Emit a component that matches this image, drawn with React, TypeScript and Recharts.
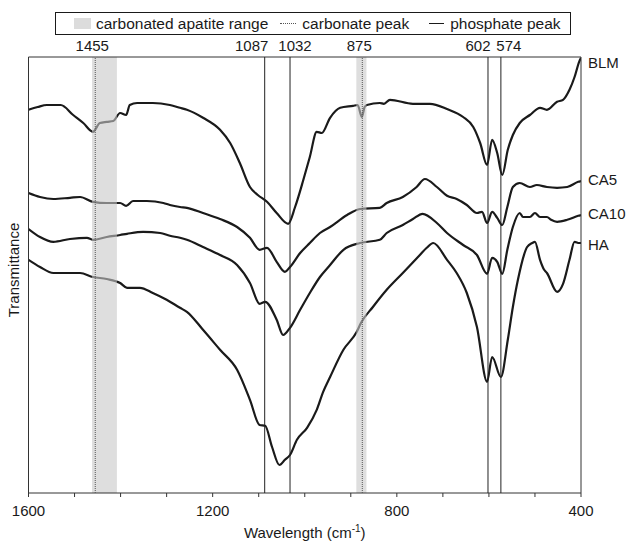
import React from 'react';
import { LineChart, Line, XAxis, YAxis, ReferenceLine, ReferenceArea } from 'recharts';

// FTIR spectra, wavenumber (cm-1) vs transmittance (arb. units, curves offset)
const blmWave = [1600, 1580, 1560, 1530, 1503, 1481, 1460, 1445, 1430, 1416, 1401, 1388, 1380, 1364, 1330, 1293, 1271, 1256, 1221, 1184, 1162, 1141, 1119, 1102, 1082, 1061, 1036, 1021, 1003, 989, 974, 963, 945, 923, 895, 885, 876, 870, 865, 837, 828, 815, 765, 728, 691, 656, 634, 619, 604, 593, 582, 571, 559, 548, 533, 511, 489, 474, 452, 439, 425, 414, 404, 400];
const blmT = [95.8, 96.5, 97.0, 97.0, 94.5, 92.5, 90.3, 92.5, 92.8, 93.0, 95.0, 94.5, 97.0, 97.5, 97.5, 97.0, 96.3, 95.8, 93.8, 90.8, 87.5, 82.5, 76.5, 74.5, 72.8, 70.0, 67.3, 71.5, 78.3, 84.0, 90.3, 90.0, 93.8, 96.3, 96.8, 97.0, 94.0, 96.5, 97.0, 97.5, 97.3, 98.3, 97.3, 97.3, 96.0, 94.0, 91.5, 87.5, 82.0, 88.3, 85.0, 79.5, 85.8, 89.5, 92.5, 94.5, 96.3, 95.8, 97.8, 98.3, 100.8, 104.0, 107.8, 108.8];

const ca5Wave = [1600, 1575, 1546, 1510, 1488, 1460, 1430, 1401, 1388, 1373, 1343, 1307, 1293, 1271, 1256, 1221, 1184, 1147, 1119, 1098, 1082, 1061, 1043, 1032, 1010, 989, 967, 945, 908, 880, 837, 822, 787, 757, 739, 713, 691, 670, 648, 626, 615, 604, 593, 582, 571, 560, 548, 533, 511, 496, 474, 452, 430, 406, 400];
const ca5T = [75.0, 74.0, 73.5, 73.8, 74.0, 72.8, 72.5, 72.5, 71.8, 73.0, 73.0, 72.5, 72.0, 71.5, 71.3, 70.0, 68.5, 66.5, 63.8, 60.8, 61.3, 57.8, 55.3, 56.5, 60.0, 62.5, 65.0, 66.5, 69.5, 71.0, 71.3, 72.5, 74.0, 76.5, 78.5, 76.5, 74.3, 73.5, 72.0, 70.0, 70.3, 67.5, 70.3, 68.8, 67.0, 71.5, 76.5, 77.5, 76.5, 77.0, 76.5, 76.3, 76.5, 77.8, 78.0];

const ca10Wave = [1600, 1575, 1546, 1510, 1473, 1460, 1430, 1401, 1386, 1351, 1314, 1293, 1271, 1256, 1221, 1184, 1147, 1119, 1098, 1086, 1061, 1047, 1032, 1010, 989, 967, 945, 916, 880, 837, 822, 787, 765, 744, 713, 691, 656, 626, 604, 593, 582, 571, 560, 548, 533, 526, 511, 500, 489, 474, 465, 452, 430, 406, 400];
const ca10T = [66.0, 64.0, 62.8, 63.5, 63.8, 63.3, 64.0, 64.5, 64.8, 65.3, 65.0, 64.3, 63.8, 63.3, 61.5, 59.5, 57.0, 52.5, 47.3, 47.8, 43.3, 39.5, 41.3, 45.8, 50.0, 54.0, 57.0, 60.8, 62.5, 63.3, 65.0, 67.0, 68.5, 69.8, 67.5, 65.0, 62.0, 59.5, 54.8, 58.8, 57.8, 54.8, 60.8, 66.5, 70.0, 69.0, 69.0, 70.0, 69.0, 69.0, 68.3, 67.8, 68.3, 69.3, 69.5];

const haWave = [1600, 1575, 1546, 1488, 1460, 1430, 1401, 1386, 1358, 1330, 1300, 1271, 1256, 1221, 1184, 1147, 1119, 1098, 1086, 1071, 1055, 1043, 1032, 1017, 995, 974, 960, 945, 916, 887, 878, 852, 822, 787, 750, 735, 721, 691, 670, 648, 626, 604, 593, 574, 559, 548, 537, 517, 506, 500, 489, 480, 474, 452, 439, 425, 414, 404, 400];
const haT = [58.3, 56.5, 55.0, 55.0, 54.0, 53.5, 52.5, 51.3, 51.3, 50.0, 48.3, 46.3, 45.3, 40.8, 35.8, 30.8, 23.3, 17.0, 16.8, 11.5, 7.0, 8.3, 9.5, 13.3, 16.3, 20.8, 25.3, 29.0, 35.8, 40.3, 42.5, 46.5, 50.8, 55.0, 59.5, 61.3, 62.5, 58.3, 55.0, 50.0, 41.5, 27.8, 34.0, 29.0, 38.3, 46.5, 53.3, 61.5, 62.5, 62.8, 58.3, 55.8, 55.0, 50.3, 52.3, 58.3, 62.8, 62.5, 62.5];

const phosphatePeaks = [1087, 1032, 602, 574];
const carbonatePeaks = [1455, 875];
const apatiteRanges = [[1462, 1408], [888, 866]];

const xTicks = [1600, 1500, 1400, 1300, 1200, 1100, 1000, 900, 800, 700, 600, 500, 400];
const xTickLabels = [1600, 1200, 800, 400];

const FONT = '"Liberation Sans", Arial, Helvetica, sans-serif';
const INK = '#1a1a1a';

const toPoints = (wave: number[], t: number[]) => wave.map((w, i) => ({ w, t: t[i] }));

const series = [
  { name: 'BLM', data: toPoints(blmWave, blmT), dy: 5 },
  { name: 'CA5', data: toPoints(ca5Wave, ca5T), dy: -2 },
  { name: 'CA10', data: toPoints(ca10Wave, ca10T), dy: -2 },
  { name: 'HA', data: toPoints(haWave, haT), dy: 1 },
];

// label offsets so the close peak numbers don't collide
const peakLabelDx: Record<number, number> = { 1455: -3, 1087: -13, 1032: 5, 875: -3, 602: -10, 574: 8 };

const PeakLabel = (props: any) => {
  const vb = props.viewBox || {};
  return (
    <text x={(vb.x ?? 0) + (props.dx || 0)} y={(vb.y ?? 57) - 6} textAnchor="middle"
      fontSize={15} fontFamily={FONT} fill={INK}>
      {props.value}
    </text>
  );
};

const endLabel = (name: string, last: number, dy: number) => (props: any) => {
  if (props.index !== last) return null;
  const x = props.x ?? props.viewBox?.x;
  const y = props.y ?? props.viewBox?.y;
  if (x == null || y == null) return null;
  return (
    <text key={name} x={x + 7} y={y + dy} dominantBaseline="central" fontSize={15}
      fontFamily={FONT} fill={INK}>
      {name}
    </text>
  );
};

const XTitle = (props: any) => {
  const vb = props.viewBox || {};
  const cx = (vb.x ?? 28) + (vb.width ?? 552) / 2;
  return (
    <text x={cx} y={(vb.y ?? 493) + 45} textAnchor="middle" fontSize={15} fontFamily={FONT} fill={INK}>
      <tspan>Wavelength (cm</tspan>
      <tspan dy={-6} fontSize={10}>-1</tspan>
      <tspan dy={6}>)</tspan>
    </text>
  );
};

const YTitle = (props: any) => {
  const vb = props.viewBox || {};
  const cy = (vb.y ?? 57) + (vb.height ?? 436) / 2 - 5;
  const cx = 13;
  return (
    <text x={cx} y={cy} transform={`rotate(-90, ${cx}, ${cy})`} textAnchor="middle"
      dominantBaseline="central" fontSize={15} fontFamily={FONT} fill={INK}>
      Transmittance
    </text>
  );
};

const LegendBox = () => (
  <div style={{
    position: 'absolute', left: 55, top: 12, width: 514, height: 21,
    border: `1px solid ${INK}`, display: 'flex', alignItems: 'center',
    fontFamily: FONT, fontSize: 15.5, color: INK, background: '#fff', whiteSpace: 'nowrap',
  }}>
    <span style={{ display: 'inline-block', width: 17, height: 11, background: '#dcdcdc', marginLeft: 18, marginRight: 5 }} />
    <span>carbonated apatite range</span>
    <span style={{ display: 'inline-block', width: 16, borderTop: '1px dotted #555', marginLeft: 12, marginRight: 6 }} />
    <span>carbonate peak</span>
    <span style={{ display: 'inline-block', width: 15, borderTop: `1.5px solid ${INK}`, marginLeft: 20, marginRight: 6 }} />
    <span>phosphate peak</span>
  </div>
);

export default function App() {
  return (
    <div style={{ position: 'absolute', left: 0, top: 0, width: 634, height: 544, background: '#fff' }}>
      <LineChart width={634} height={544} margin={{ top: 37, right: 33, bottom: 21, left: 8.5 }}>
        <XAxis type="number" dataKey="w" domain={[400, 1600]} reversed allowDataOverflow
          ticks={xTicks} interval={0} height={30} tickSize={4} tickMargin={8}
          tickFormatter={(v: number) => (xTickLabels.includes(v) ? String(v) : '')}
          axisLine={{ stroke: '#333' }} tickLine={{ stroke: '#333' }}
          tick={{ fontSize: 15, fontFamily: FONT, fill: INK }}
          label={<XTitle />} />
        <XAxis xAxisId="top" orientation="top" type="number" dataKey="w" domain={[400, 1600]}
          reversed allowDataOverflow height={20} tick={false} tickLine={false}
          axisLine={{ stroke: '#333' }} />
        <YAxis domain={[0, 109]} allowDataOverflow width={20} tick={false} tickLine={false}
          axisLine={{ stroke: '#333' }} label={<YTitle />} />
        <YAxis yAxisId="right" orientation="right" domain={[0, 109]} width={20} tick={false}
          tickLine={false} axisLine={{ stroke: '#333' }} />

        {series.map((s) => (
          <Line key={s.name} data={s.data} dataKey="t" type="monotoneX" dot={false}
            stroke={INK} strokeWidth={2.2} strokeLinejoin="round" isAnimationActive={false}
            label={endLabel(s.name, s.data.length - 1, s.dy)} />
        ))}

        {apatiteRanges.map(([a, b]) => (
          <ReferenceArea key={a} x1={a} x2={b} fill="#c8c8c8" fillOpacity={0.6}
            stroke="none" zIndex={450} ifOverflow="hidden" />
        ))}

        {phosphatePeaks.map((p) => (
          <ReferenceLine key={p} x={p} stroke="#222" strokeWidth={1} zIndex={500}
            label={<PeakLabel value={p} dx={peakLabelDx[p]} />} />
        ))}
        {carbonatePeaks.map((p) => (
          <ReferenceLine key={p} x={p} stroke="#555" strokeWidth={1} strokeDasharray="1 1"
            zIndex={500} label={<PeakLabel value={p} dx={peakLabelDx[p]} />} />
        ))}
      </LineChart>
      <LegendBox />
    </div>
  );
}
